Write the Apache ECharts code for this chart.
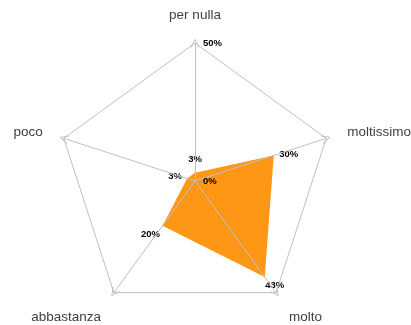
<!DOCTYPE html>
<html><head><meta charset="utf-8">
<script src="https://cdn.jsdelivr.net/npm/echarts@6/dist/echarts.min.js"></script>
<style>html,body{margin:0;padding:0;background:#fff}#c{width:411px;height:325px}</style>
</head><body><div id="c"></div>
<script>
const categories = ['per nulla', 'poco', 'abbastanza', 'molto', 'moltissimo'];
const values = [3, 3, 20, 43, 30];
const axisMax = 50;
const axisTicks = [0, 50];

// label nudges (style only): [dx, dy] per category
const labelNudge = [[0, -13], [-12, -2], [-12, 9], [10, 8], [15, -1]];
// name nudges (style only): vertical shift per category
const nameNudge = [0, 1, 7, 7, 1];

const labelFont = { fontFamily: 'Liberation Sans', fontWeight: 'bold', fontSize: 9.5, color: '#000' };
const rich = {};
labelNudge.forEach((n, i) => {
  const dx = n[0], dy = n[1];
  rich['d' + i] = Object.assign({
    padding: [Math.max(0, 2 * dy), Math.max(0, -2 * dx), Math.max(0, -2 * dy), Math.max(0, 2 * dx)]
  }, labelFont);
});
const nameFont = { color: '#404040', fontFamily: 'Liberation Sans', fontSize: 13.5 };
const nameRich = {};
nameNudge.forEach((dy, i) => {
  nameRich['n' + i] = Object.assign(
    i === 0 ? { lineHeight: 11 } : { padding: [Math.max(0, 2 * dy), 0, Math.max(0, -2 * dy), 0] },
    nameFont);
});

const chevron = 'path://M0,10 L5,0 L10,10 L9,10.6 L5,2.2 L1,10.6 Z';

const chart = echarts.init(document.getElementById('c'), null, { renderer: 'canvas' });
chart.setOption({
  animation: false,
  radar: {
    z: 5,
    center: [195, 181],
    radius: 138,
    startAngle: 90,
    splitNumber: axisTicks.length - 1,
    shape: 'polygon',
    nameGap: 22,
    axisName: Object.assign({
      formatter: (name) => '{n' + categories.indexOf(name) + '|' + name + '}',
      rich: nameRich
    }, nameFont),
    indicator: categories.map((name, i) => ({
      name: name, min: 0, max: axisMax,
      axisLabel: i === 0 ? Object.assign({
        show: true, formatter: '{value}%', margin: -8, align: 'left',
        showMinLabel: true, showMaxLabel: true
      }, labelFont) : undefined
    })),
    axisLine: { show: true, symbol: ['none', chevron], symbolSize: [9, 9], lineStyle: { color: '#bfbfbf', width: 1 } },
    splitLine: { show: true, lineStyle: { color: '#bfbfbf', width: 1 } },
    splitArea: { show: false },
    axisTick: { show: false },
    axisLabel: { show: false }
  },
  series: [{
    type: 'radar',
    z: 2,
    symbol: 'circle',
    symbolSize: 1,
    itemStyle: { color: '#FF9716' },
    lineStyle: { width: 0, color: '#FF9716' },
    areaStyle: { color: '#FF9716', opacity: 1 },
    label: {
      show: true, position: 'inside',
      formatter: p => {
        const d = p.dimensionIndex;
        const v = Array.isArray(p.value) ? p.value[d] : p.value;
        return '{d' + d + '|' + v + '%}';
      },
      rich: rich
    },
    data: [{ value: values, name: 'serie' }]
  }]
});
</script></body></html>
